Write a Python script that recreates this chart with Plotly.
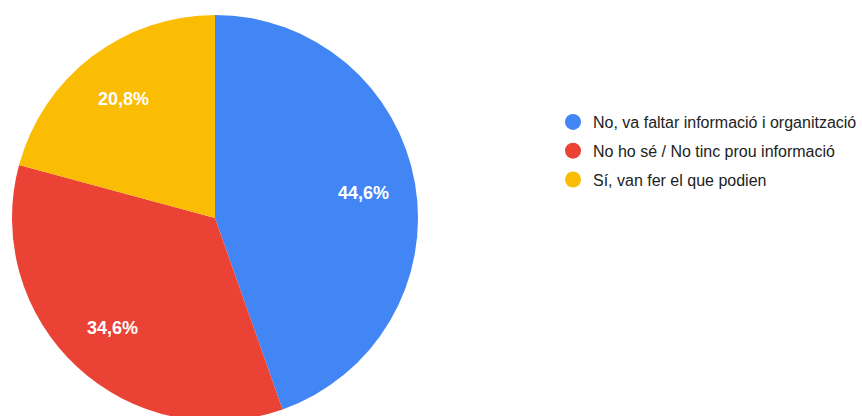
import math
import plotly.graph_objects as go

categories = [
    "No, va faltar informació i organització",
    "No ho sé / No tinc prou informació",
    "Sí, van fer el que podien",
]
values = [44.6, 34.6, 20.8]
colors = ["#4285F4", "#EA4335", "#FBBC04"]

W, H = 862, 424
PIE_X = [12 / W, 418 / W]
PIE_Y = [3 / H, 409 / H]
LABEL_R = 0.74

fig = go.Figure()
fig.add_trace(go.Pie(
    labels=categories,
    values=values,
    marker=dict(colors=colors, line=dict(width=0)),
    sort=False,
    direction="clockwise",
    rotation=0,
    textinfo="none",
    showlegend=False,
    domain=dict(x=PIE_X, y=PIE_Y),
    hoverinfo="label+percent",
))

for i, (name, col) in enumerate(zip(categories, colors)):
    fig.add_trace(go.Scatter(
        x=[None], y=[None], mode="markers", name=name,
        marker=dict(symbol="circle", size=16, color=col),
        legendgroup=f"g{i}",
        showlegend=True,
    ))

# percentage labels placed along each slice's mid-angle, in unit-circle axis coords
total = sum(values)
cum = 0.0
annotations = []
for v in values:
    mid = (cum + v / 2) / total * 2 * math.pi
    cum += v
    pct = f"{v / total * 100:.1f}%".replace(".", ",")
    annotations.append(dict(
        x=LABEL_R * math.sin(mid), y=LABEL_R * math.cos(mid),
        xref="x", yref="y", text=pct, showarrow=False,
        font=dict(family="Arial, Liberation Sans", size=18, color="white", weight="bold"),
        xanchor="center", yanchor="middle",
    ))

fig.update_layout(
    width=W, height=H,
    margin=dict(l=0, r=0, t=0, b=0),
    paper_bgcolor="white", plot_bgcolor="rgba(0,0,0,0)",
    separators=",.",
    xaxis=dict(visible=False, domain=PIE_X, range=[-1, 1], fixedrange=True),
    yaxis=dict(visible=False, domain=PIE_Y, range=[-1, 1], fixedrange=True),
    annotations=annotations,
    legend=dict(
        x=553 / W, y=(H - 105) / H, xanchor="left", yanchor="top",
        font=dict(family="Arial, Liberation Sans", size=16, color="#222222"),
        tracegroupgap=5, itemclick=False, itemdoubleclick=False,
        bgcolor="rgba(0,0,0,0)",
    ),
)

fig.write_html(
    "out.html",
    config={"displayModeBar": False},
    post_script="document.body.style.margin='0';document.body.style.overflow='hidden';document.documentElement.style.overflow='hidden';",
)
